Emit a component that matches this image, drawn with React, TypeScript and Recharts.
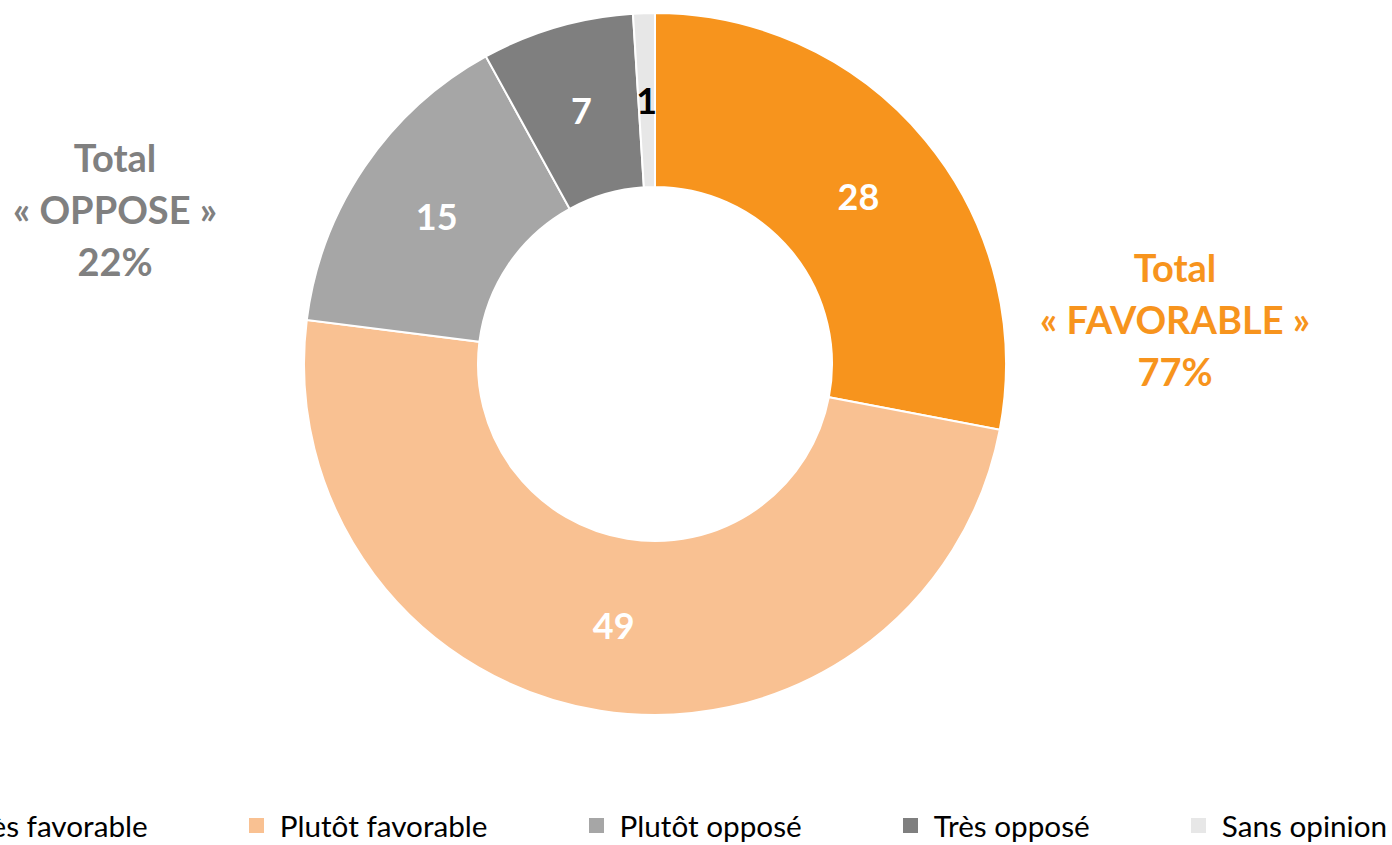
import React from "react";
import { PieChart, Pie, Cell, Legend } from "recharts";

const categories = ["Très favorable", "Plutôt favorable", "Plutôt opposé", "Très opposé", "Sans opinion"];
const values = [28, 49, 15, 7, 1];
const colors = ["#F7941D", "#F9C192", "#A6A6A6", "#7F7F7F", "#E7E7E7"];
const labelColors = ["#FFFFFF", "#FFFFFF", "#FFFFFF", "#FFFFFF", "#000000"];

const totalFavorable = values[0] + values[1];
const totalOppose = values[2] + values[3];

const data = categories.map((name, i) => ({ name, value: values[i] }));

const FONT = "Lato, 'Open Sans', sans-serif";
const RAD = Math.PI / 180;

const renderLabel = (props: any) => {
  const { cx, cy, midAngle, innerRadius, outerRadius, index, value } = props;
  const r = (innerRadius + outerRadius) / 2;
  const x = cx + r * Math.cos(-midAngle * RAD);
  const y = cy + r * Math.sin(-midAngle * RAD);
  return (
    <text
      x={x}
      y={y}
      fill={labelColors[index]}
      textAnchor="middle"
      dominantBaseline="central"
      fontFamily={FONT}
      fontWeight={700}
      fontSize={36}
    >
      {value}
    </text>
  );
};

const renderLegend = () => (
  <div style={{ display: "flex", whiteSpace: "nowrap", fontFamily: FONT, fontSize: 29.7, color: "#000" }}>
    {data.map((d, i) => (
      <div key={d.name} style={{ display: "flex", alignItems: "center", marginRight: 101 }}>
        <span style={{ display: "inline-block", width: 15, height: 15, background: colors[i], marginRight: 16 }} />
        <span>{d.name}</span>
      </div>
    ))}
  </div>
);

const totalStyle: React.CSSProperties = {
  position: "absolute",
  fontFamily: FONT,
  fontWeight: 700,
  fontSize: 38,
  lineHeight: "52px",
  textAlign: "center",
  width: 340,
};

export default function App() {
  return (
    <div style={{ position: "absolute", left: 0, top: 0, width: 1392, height: 845, background: "#fff", overflow: "hidden" }}>
      <PieChart width={1392} height={845} margin={{ top: 0, right: 0, bottom: 0, left: 0 }}>
        <Pie
          data={data}
          dataKey="value"
          nameKey="name"
          cx={655}
          cy={364}
          innerRadius={177}
          outerRadius={351}
          startAngle={90}
          endAngle={-270}
          stroke="#FFFFFF"
          strokeWidth={2}
          label={renderLabel}
          labelLine={false}
          isAnimationActive={false}
        >
          {data.map((d, i) => (
            <Cell key={d.name} fill={colors[i]} />
          ))}
        </Pie>
        <Legend
          content={renderLegend}
          wrapperStyle={{ left: -65, top: 808, width: "auto" }}
        />
      </PieChart>
      <div style={{ ...totalStyle, left: 115 - 170, top: 131, color: "#808080" }}>
        <div>Total</div>
        <div>« OPPOSE »</div>
        <div>{totalOppose}%</div>
      </div>
      <div style={{ ...totalStyle, left: 1175 - 170, top: 241, color: "#F7941D" }}>
        <div>Total</div>
        <div>« FAVORABLE »</div>
        <div>{totalFavorable}%</div>
      </div>
    </div>
  );
}
